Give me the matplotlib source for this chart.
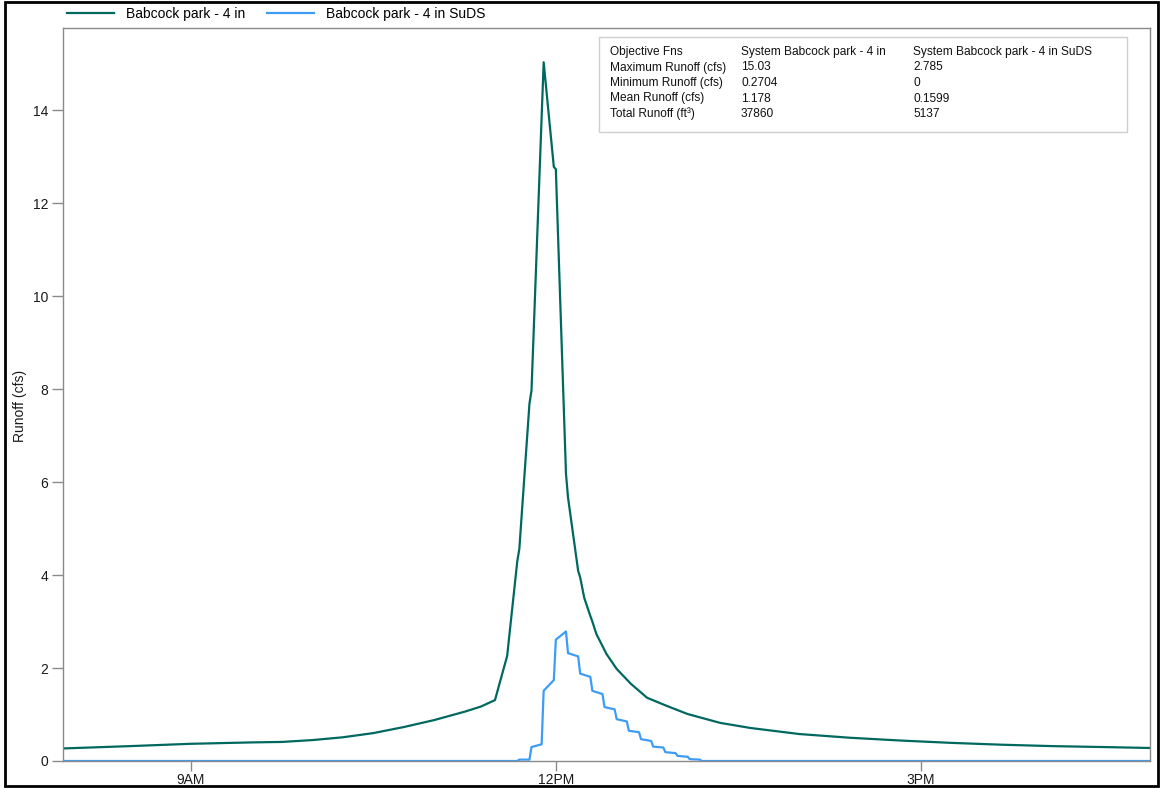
import numpy as np
import matplotlib.pyplot as plt
from matplotlib.patches import Rectangle

plt.rcParams['font.family'] = ['Liberation Sans', 'DejaVu Sans']

# runoff without SuDS (time of day, cfs)
base_times = ["07:57", "08:30", "09:00", "09:30", "09:45", "10:00", "10:15",
              "10:30", "10:45", "11:00", "11:15", "11:23", "11:30", "11:36",
              "11:41", "11:42", "11:47", "11:48", "11:54", "11:59", "12:00",
              "12:05", "12:06", "12:11", "12:12", "12:14", "12:17", "12:18",
              "12:20", "12:25", "12:30", "12:37", "12:45", "12:55", "13:05",
              "13:21", "13:36", "14:00", "14:25", "14:50", "15:15", "15:40",
              "16:05", "16:30", "16:53"]
base_cfs = [0.27, 0.32, 0.37, 0.40, 0.41, 0.45, 0.51,
            0.60, 0.73, 0.88, 1.06, 1.17, 1.31, 2.26,
            4.30, 4.56, 7.69, 7.97, 15.03, 12.78, 12.73,
            6.18, 5.67, 4.09, 3.95, 3.51, 3.12, 3.00,
            2.73, 2.30, 1.98, 1.66, 1.36, 1.18, 1.01,
            0.82, 0.71, 0.58, 0.50, 0.44, 0.39, 0.35,
            0.32, 0.30, 0.28]

# runoff with SuDS
suds_times = ["07:57", "11:41", "11:42", "11:47", "11:48", "11:53", "11:54",
              "11:59", "12:00", "12:05", "12:06", "12:11", "12:12", "12:17",
              "12:18", "12:23", "12:24", "12:29", "12:30", "12:35", "12:36",
              "12:41", "12:42", "12:47", "12:48", "12:53", "12:54", "12:59",
              "13:00", "13:05", "13:06", "13:11", "13:12", "16:53"]
suds_cfs = [0, 0, 0.03, 0.03, 0.30, 0.36, 1.51,
            1.74, 2.61, 2.785, 2.32, 2.25, 1.88, 1.81,
            1.51, 1.44, 1.16, 1.11, 0.90, 0.85, 0.65,
            0.62, 0.47, 0.43, 0.31, 0.29, 0.19, 0.17,
            0.11, 0.09, 0.04, 0.03, 0, 0]

tick_hours = [9, 12, 15]
tick_labels = ["9AM", "12PM", "3PM"]

stats_rows = ["Objective Fns", "Maximum Runoff (cfs)", "Minimum Runoff (cfs)",
              "Mean Runoff (cfs)", "Total Runoff (ft\u00b3)"]
stats_base = ["System Babcock park - 4 in", "15.03", "0.2704", "1.178", "37860"]
stats_suds = ["System Babcock park - 4 in SuDS", "2.785", "0", "0.1599", "5137"]


def to_hours(times):
    out = []
    for t in times:
        h, m = t.split(":")
        out.append(int(h) + int(m) / 60.0)
    return np.array(out)


W, H = 1160, 788


def fx(x):
    return x / W


def fy(y):
    return 1 - y / H


fig = plt.figure(figsize=(W / 100, H / 100), dpi=100)
ax_l, ax_r, ax_t, ax_b = 63.3, 1150, 28.3, 761
ax = fig.add_axes([fx(ax_l), fy(ax_b), fx(ax_r) - fx(ax_l), fy(ax_t) - fy(ax_b)])

green = '#00695f'
blue = '#3d9cf5'
l1, = ax.plot(to_hours(base_times), base_cfs, color=green, lw=1.6,
              label="Babcock park - 4 in")
l2, = ax.plot(to_hours(suds_times), suds_cfs, color=blue, lw=1.6,
              label="Babcock park - 4 in SuDS")

ax.set_xlim(7.953, 16.882)
ax.set_ylim(0, 15.76)
ax.set_yticks(np.arange(0, 15, 2))
ax.set_xticks(tick_hours)
ax.set_xticklabels(tick_labels)
ax.tick_params(axis='both', colors='#8a8a8a', labelcolor='#1a1a1a',
               labelsize=10, width=1)
ax.tick_params(axis='y', length=8, pad=3)
ax.tick_params(axis='x', length=7, pad=2)
for s in ax.spines.values():
    s.set_color('#8a8a8a')
    s.set_linewidth(1)
ax.set_ylabel("Runoff (cfs)", fontsize=10, color='#1a1a1a')
ax.yaxis.set_label_coords(-(ax_l - 27) / (ax_r - ax_l), (ax_b - 406) / (ax_b - ax_t))

# legend above the plot
fig.legend(handles=[l1, l2], loc='center left', bbox_to_anchor=(fx(61), fy(14)),
           ncol=2, frameon=False, fontsize=10, handlelength=3.4,
           handletextpad=0.85, columnspacing=1.6, borderaxespad=0)

# stats box
fig.add_artist(Rectangle((fx(599), fy(132)), fx(1127) - fx(599), fy(37) - fy(132),
                         transform=fig.transFigure, fill=False,
                         edgecolor='#cfcfcf', lw=1))
row_y = [52, 67.5, 83, 98.5, 114]
for i in range(len(stats_rows)):
    fig.text(fx(610), fy(row_y[i]), stats_rows[i], fontsize=8.6, va='center', color='#111111')
    fig.text(fx(741), fy(row_y[i]), stats_base[i], fontsize=8.6, va='center', color='#111111')
    fig.text(fx(913), fy(row_y[i]), stats_suds[i], fontsize=8.6, va='center', color='#111111')

# outer frame
fig.add_artist(Rectangle((fx(5), fy(786)), fx(1158) - fx(5), fy(2) - fy(786),
                         transform=fig.transFigure, fill=False,
                         edgecolor='black', lw=2))

fig.savefig('out.png', dpi=100)
